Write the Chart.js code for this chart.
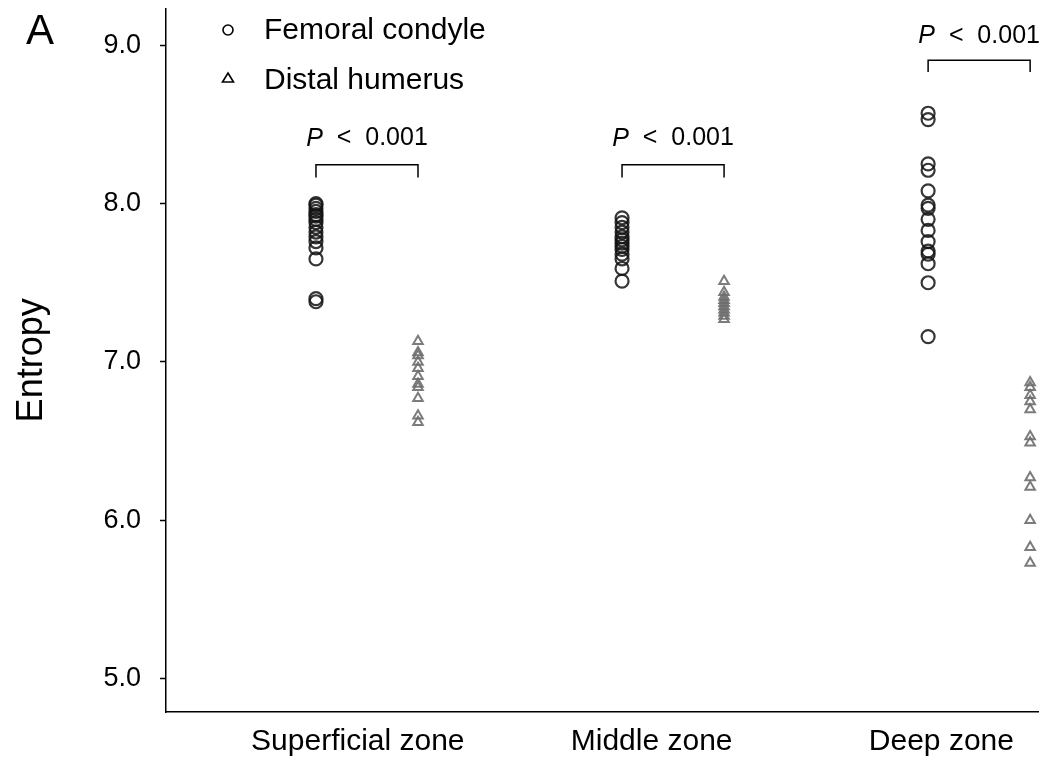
<!DOCTYPE html>
<html>
<head>
<meta charset="utf-8">
<script src="https://cdn.jsdelivr.net/npm/chart.js@4/dist/chart.umd.min.js"></script>
<style>
  html, body { margin: 0; padding: 0; background: #fff; }
  #wrap { width: 1047px; height: 761px; }
</style>
</head>
<body>
<div id="wrap"><canvas id="entropyChart"></canvas></div>
<script>
// zones and where their labels sit on the x scale
const zones = ["Superficial zone", "Middle zone", "Deep zone"];
const zoneTickPos = [1.41, 4.29, 7.13];
const femoralX = [1, 4, 7];
const humerusX = [2, 5, 8];
const yTicks = [5.0, 6.0, 7.0, 8.0, 9.0];

// entropy values
const femoralSuperficial = [8.0, 7.99, 7.97, 7.95, 7.93, 7.92, 7.9, 7.88, 7.85, 7.82, 7.79, 7.76, 7.72, 7.65, 7.4, 7.38];
const femoralMiddle = [7.91, 7.88, 7.85, 7.82, 7.79, 7.77, 7.75, 7.73, 7.71, 7.68, 7.65, 7.59, 7.51];
const femoralDeep = [8.57, 8.53, 8.25, 8.21, 8.08, 7.99, 7.97, 7.9, 7.83, 7.76, 7.7, 7.68, 7.62, 7.5, 7.16];

const humerusSuperficial = [7.13, 7.06, 7.04, 7.0, 6.96, 6.91, 6.86, 6.84, 6.77, 6.66, 6.62];
const humerusMiddle = [7.51, 7.44, 7.41, 7.39, 7.37, 7.35, 7.33, 7.31, 7.29, 7.27];
const humerusDeep = [6.87, 6.84, 6.79, 6.75, 6.7, 6.53, 6.49, 6.27, 6.21, 6.0, 5.83, 5.73];

// significance brackets
const bracketTop = [8.245, 8.245, 8.905];
const bracketFoot = [8.165, 8.165, 8.83];
const pLabelY = [8.41, 8.41, 9.06];
const pText = "0.001";

const femoralGroups = [femoralSuperficial, femoralMiddle, femoralDeep];
const humerusGroups = [humerusSuperficial, humerusMiddle, humerusDeep];

const FONT = "'Liberation Sans', Arial, sans-serif";

function toPoints(groups, xs) {
    let pts = [];
    groups.forEach((g, i) => g.forEach(v => pts.push({ x: xs[i], y: v })));
    return pts;
}

function noPad(axis) {
    axis.paddingTop = 0;
    axis.paddingBottom = 0;
    axis.paddingLeft = 0;
    axis.paddingRight = 0;
}

let bracketSets = zones.map((z, i) => ({
    type: "line",
    label: "bracket" + i,
    data: [
        { x: femoralX[i], y: bracketFoot[i] },
        { x: femoralX[i], y: bracketTop[i] },
        { x: humerusX[i], y: bracketTop[i] },
        { x: humerusX[i], y: bracketFoot[i] }
    ],
    borderColor: "#000",
    borderWidth: 1.5,
    pointRadius: 0,
    fill: false,
    tension: 0
}));

const textPlugin = {
    id: "textPlugin",
    afterDraw(chart) {
        const ctx = chart.ctx;
        const xs = chart.scales.x, ys = chart.scales.y;
        ctx.save();
        ctx.fillStyle = "#000";
        ctx.textBaseline = "middle";

        // P < 0.001 labels
        zones.forEach((z, i) => {
            const cx = xs.getPixelForValue((femoralX[i] + humerusX[i]) / 2);
            const cy = ys.getPixelForValue(pLabelY[i]);
            ctx.font = "italic 25px " + FONT;
            const wP = ctx.measureText("P").width;
            ctx.font = "25px " + FONT;
            const rest = "  <  " + pText;
            const wR = ctx.measureText(rest).width;
            let x0 = cx - (wP + wR) / 2;
            ctx.textAlign = "left";
            ctx.font = "italic 25px " + FONT;
            ctx.fillText("P", x0, cy);
            ctx.font = "25px " + FONT;
            ctx.fillText(rest, x0 + wP, cy);
        });

        // legend
        ctx.font = "30px " + FONT;
        ctx.textAlign = "left";
        ctx.fillText("Femoral condyle", 264, 31);
        ctx.fillText("Distal humerus", 264, 81);
        ctx.strokeStyle = "#000";
        ctx.lineWidth = 1.6;
        ctx.beginPath();
        ctx.arc(228, 30, 5, 0, Math.PI * 2);
        ctx.stroke();
        ctx.beginPath();
        ctx.moveTo(228, 73);
        ctx.lineTo(233.5, 82);
        ctx.lineTo(222.5, 82);
        ctx.closePath();
        ctx.stroke();

        // panel letter
        ctx.font = "42px " + FONT;
        ctx.fillText("A", 26, 32);
        ctx.restore();
    }
};

new Chart(document.getElementById("entropyChart"), {
    type: "scatter",
    data: {
        datasets: [
            {
                label: "Femoral condyle",
                data: toPoints(femoralGroups, femoralX),
                pointStyle: "circle",
                pointRadius: 6.5,
                pointBorderWidth: 2.2,
                borderColor: "rgba(20,20,20,0.85)",
                backgroundColor: "rgba(0,0,0,0)"
            },
            {
                label: "Distal humerus",
                data: toPoints(humerusGroups, humerusX),
                pointStyle: "triangle",
                pointRadius: 5.5,
                pointBorderWidth: 2,
                borderColor: "rgba(110,110,110,0.9)",
                backgroundColor: "rgba(0,0,0,0)"
            },
            ...bracketSets
        ]
    },
    options: {
        responsive: true,
        maintainAspectRatio: false,
        animation: false,
        layout: { padding: { top: 8, right: 8, left: 0, bottom: 0 } },
        plugins: {
            legend: { display: false },
            tooltip: { enabled: false }
        },
        scales: {
            x: {
                type: "linear",
                min: -0.47,
                max: 8.08,
                afterBuildTicks: axis => { axis.ticks = zoneTickPos.map(v => ({ value: v })); },
                afterFit: axis => { axis.height = 49; noPad(axis); },
                ticks: {
                    callback: (v, i) => zones[i],
                    color: "#000",
                    font: { family: FONT, size: 30 },
                    maxRotation: 0,
                    padding: 12
                },
                grid: { display: true, drawOnChartArea: false, drawTicks: false },
                border: { color: "#000", width: 1.5 }
            },
            y: {
                min: 4.79,
                max: 9.23,
                afterBuildTicks: axis => { axis.ticks = yTicks.map(v => ({ value: v })); },
                afterFit: axis => { axis.width = 166; noPad(axis); },
                ticks: {
                    callback: v => v.toFixed(1),
                    color: "#000",
                    font: { family: FONT, size: 27 },
                    padding: 19
                },
                grid: { drawOnChartArea: false, drawTicks: true, tickLength: 6, color: "#000", tickWidth: 1.5 },
                border: { color: "#000", width: 1.5 },
                title: {
                    display: true,
                    text: "Entropy",
                    color: "#000",
                    font: { family: FONT, size: 36 },
                    padding: { top: 10, bottom: 40 }
                }
            }
        }
    },
    plugins: [textPlugin]
});
</script>
</body>
</html>
